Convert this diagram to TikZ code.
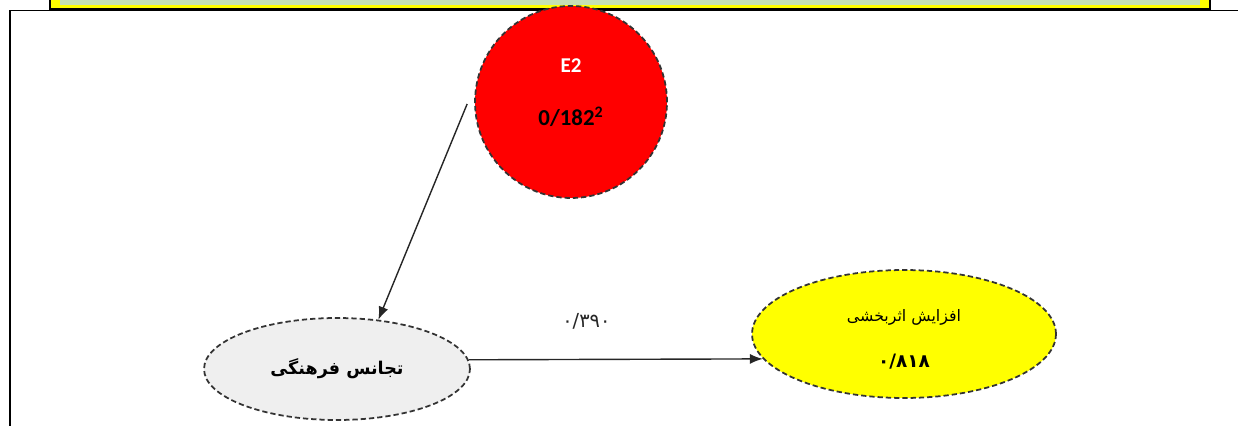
\documentclass[tikz,border=0pt]{standalone}
\usepackage{fontspec}
\setmainfont{Carlito}
\newfontfamily\farsifont[Script=Arabic]{DejaVu Sans}
\TeXXeTstate=1
\usetikzlibrary{arrows.meta}
\usetikzlibrary{shapes.geometric}
\definecolor{boxgreen}{HTML}{C5E0B4}
\definecolor{latgray}{HTML}{EFEFEF}
\definecolor{outyellow}{HTML}{FFFF00}
\definecolor{errred}{HTML}{FF0000}

\begin{document}
\begin{tikzpicture}[x=0.02cm, y=-0.02cm,
    dashnode/.style = {draw=black!80, dash pattern=on 3pt off 1.7pt, line width=1pt, inner sep=0pt},
    errnode/.style = {dashnode, circle, fill=errred, minimum size=3.84cm},
    latnode/.style = {dashnode, ellipse, fill=latgray, minimum width=5.32cm, minimum height=2.04cm},
    outnode/.style = {dashnode, ellipse, fill=outyellow, minimum width=6.08cm, minimum height=2.56cm},
    link/.style = {-{Latex[length=2.6mm, width=2mm]}, line width=0.8pt, black!85}]
    \useasboundingbox (0,0) rectangle (1238,426);
    % header strip and frame
    \draw[fill=outyellow, line width=0.6pt] (50,-5) rectangle (1210,9);
    \fill[boxgreen] (60,-5) rectangle (1200,5);
    \draw[line width=1.1pt] (10,440) -- (10,10.5) -- (1250,10.5);
    % nodes
    \node[errnode] (e2) at (571,102) {};
    \node[text=white, font=\bfseries\fontsize{12}{14}\selectfont] (e2name) at (571,66) {E2};
    \node[font=\bfseries\fontsize{13}{15}\selectfont] (e2val) at (571,117) {0/182\textsuperscript{2}};
    \node[latnode, font=\farsifont\bfseries\fontsize{10}{12}\selectfont] (cult) at (337,369) {\beginR تجانس فرهنگی\endR};
    \node[outnode] (eff) at (904,334) {};
    \node[font=\farsifont\fontsize{9}{11}\selectfont] (effname) at (904,317) {\beginR افزایش اثربخشی\endR};
    \node[font=\farsifont\bfseries\fontsize{10.5}{12}\selectfont] (effval) at (904,362) {۰/۸۱۸};
    % paths
    \draw[link] ([shift={(-7,2)}]e2.west) -- (cult.50);
    \draw[link] (cult.4) -- node[pos=0.4, yshift=0.76cm, font=\farsifont\fontsize{11}{13}\selectfont] (w1) {۰/۳۹۰} (eff.190);
\end{tikzpicture}
\end{document}
